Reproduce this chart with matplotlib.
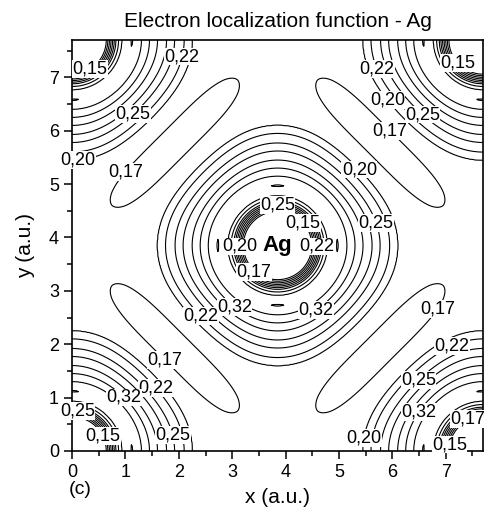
import numpy as np
import matplotlib
matplotlib.use('Agg')
import matplotlib.pyplot as plt

plt.rcParams['font.family'] = ['Liberation Sans', 'DejaVu Sans']

# Atomes Ag dans le plan (a.u.)
atom_x = [0.0, 7.7, 0.0, 7.7, 3.85]
atom_y = [0.0, 0.0, 7.7, 7.7, 3.85]

# Profil radial de l'ELF le long des axes
radial_dist = [0.00, 0.58, 0.64, 0.70, 0.76, 0.82, 0.87, 0.93, 1.05, 1.15,
               1.30, 1.45, 1.60, 1.77, 1.92, 2.10, 2.25, 2.55, 3.00, 4.00]
radial_elf = [0.100, 0.100, 0.150, 0.200, 0.250, 0.300, 0.325, 0.350, 0.365, 0.365,
              0.350, 0.325, 0.300, 0.275, 0.250, 0.225, 0.200, 0.190, 0.188, 0.186]
ripple = 0.011   # petits maxima le long des axes
aniso = 0.075    # anneaux comprimés vers les diagonales

# Minima interstitiels (lobes allongés)
lobe_x = [1.925, 5.775, 1.925, 5.775]
lobe_y = [1.925, 1.925, 5.775, 5.775]
lobe_angle = [-45, 45, 45, -45]
lobe_depth = 0.03
lobe_len = 1.72
lobe_width = 0.34

levels = [0.15, 0.175, 0.20, 0.225, 0.25, 0.275, 0.30, 0.325, 0.35, 0.375]

# positions des étiquettes par niveau
label_spots = {
    0.15: [(0.40, 7.05), (7.13, 7.17), (4.36, 4.30), (0.65, 0.32), (7.02, 0.13)],
    0.175: [(0.96, 5.26), (6.01, 6.05), (3.33, 3.27), (1.68, 1.64), (7.02, 2.54), (7.36, 0.69)],
    0.20: [(0.11, 5.45), (5.85, 6.52), (5.39, 5.28), (3.05, 3.83), (5.49, 0.24)],
    0.225: [(1.98, 7.41), (5.77, 7.18), (4.68, 3.83), (2.36, 2.48), (1.55, 1.16), (7.27, 1.63)],
    0.25: [(1.14, 6.31), (6.57, 6.31), (3.85, 4.61), (5.64, 4.25), (0.11, 0.80), (1.83, 0.28), (6.46, 1.36)],
    0.325: [(4.42, 2.85), (3.09, 2.76), (0.90, 0.93), (6.52, 0.71)],
}

# Calcul du champ
xs = np.linspace(0, 7.7, 500)
X, Y = np.meshgrid(xs, xs)
dx = X[None] - np.array(atom_x)[:, None, None]
dy = Y[None] - np.array(atom_y)[:, None, None]
dist = np.hypot(dx, dy)
k = dist.argmin(axis=0)[None]
dmin = np.take_along_axis(dist, k, 0)[0]
theta = np.arctan2(np.take_along_axis(dy, k, 0)[0], np.take_along_axis(dx, k, 0)[0])

s = np.clip((dmin - 0.8) / 1.2, 0, 1)
ramp = s * s * (3 - 2 * s)
deff = dmin * (1 + aniso * ramp * (1 - np.cos(4 * theta)) / 2)
elf = np.interp(deff, radial_dist, radial_elf)
elf += ripple * np.cos(4 * theta) * np.exp(-((dmin - 1.12) / 0.05) ** 2)
for lx, ly, ang in zip(lobe_x, lobe_y, lobe_angle):
    t = np.radians(ang)
    u = (X - lx) * np.cos(t) + (Y - ly) * np.sin(t)
    v = -(X - lx) * np.sin(t) + (Y - ly) * np.cos(t)
    elf -= lobe_depth * np.exp(-(u / lobe_len) ** 4 - (v / lobe_width) ** 2)


def fmt(val):
    return f"{int(round(val * 1000)) // 10 / 100:.2f}".replace('.', ',')


fig = plt.figure(figsize=(4.87, 5.14), dpi=100)
ax = fig.add_axes([0.148, 0.1226, 0.844, 0.7996])

# un trace par niveau pour pouvoir etiqueter niveau par niveau
for lev in levels:
    cs = ax.contour(X, Y, elf, levels=[lev], colors='black', linewidths=0.8)
    spots = [s for key, s in label_spots.items() if abs(key - lev) < 1e-9]
    if spots:
        txts = cs.clabel(manual=spots[0], inline=False, fmt=fmt, fontsize=13)
        for t in txts:
            t.set_rotation(0)
            t.set_clip_on(False)
            t.set_bbox(dict(fc='white', ec='none', pad=0.2))

ax.text(3.85, 3.85, 'Ag', fontsize=16, fontweight='bold', ha='center', va='center')

ax.set_xlim(0, 7.7)
ax.set_ylim(0, 7.7)
ax.set_xticks(range(8))
ax.set_yticks(range(8))
ax.set_xticks(np.arange(0.5, 7.6, 1), minor=True)
ax.set_yticks(np.arange(0.5, 7.6, 1), minor=True)
ax.tick_params(which='major', direction='out', length=6, width=1.1, labelsize=13)
ax.tick_params(which='minor', direction='out', length=3.5, width=1.1)
for sp in ax.spines.values():
    sp.set_linewidth(1.2)

ax.set_xlabel('x (a.u.)', fontsize=15, labelpad=5)
ax.set_ylabel('y (a.u.)', fontsize=15, labelpad=10)
ax.set_title('Electron localization function - Ag', fontsize=15, pad=9)
fig.text(0.164, 0.047, '(c)', fontsize=14, ha='center', va='center')

fig.savefig('out.png', dpi=100)
